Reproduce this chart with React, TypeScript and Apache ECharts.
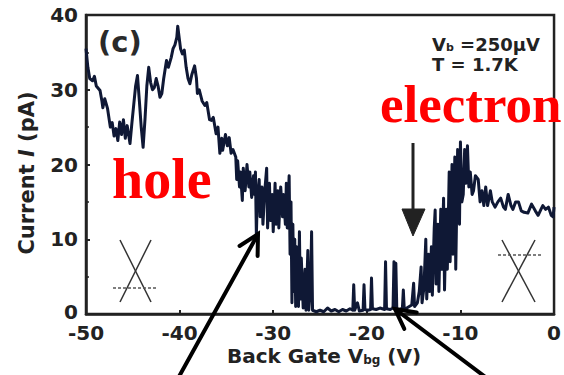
import React, { useEffect, useRef } from "react";
import * as echarts from "echarts";

// Back-gate voltage (V)
const voltage: number[] = [
  -50.0, -49.8, -49.6, -49.3, -49.1, -48.9, -48.5, -48.3, -48.2, -48.0,
  -47.7, -47.4, -47.2, -47.0, -46.8, -46.6, -46.4, -46.2, -46.0, -45.8,
  -45.6, -45.3, -45.1, -44.9, -44.7, -44.5, -44.3, -44.1, -43.9, -43.7,
  -43.5, -43.3, -43.1, -42.9, -42.7, -42.5, -42.3, -42.1, -41.9, -41.7,
  -41.4, -41.2, -40.9, -40.7, -40.5, -40.3, -40.2, -40.0, -39.9, -39.7,
  -39.5, -39.3, -39.1, -38.9, -38.7, -38.4, -38.2, -38.1, -37.9, -37.6,
  -37.3, -37.1, -36.8, -36.6, -36.4, -36.1, -35.9, -35.7, -35.5, -35.4,
  -35.1, -34.9, -34.7, -34.5, -34.3, -34.0, -33.9, -33.8, -33.6, -33.5,
  -33.3, -33.2, -33.0, -32.8, -32.6, -32.5, -32.3, -32.1, -32.0, -31.9,
  -31.8, -31.7, -31.5, -31.4, -31.2, -31.1, -30.9, -30.7, -30.6, -30.4,
  -30.3, -30.1, -30.0, -29.8, -29.7, -29.5, -29.4, -29.2, -29.0, -28.9,
  -28.7, -28.6, -28.5, -28.3, -28.2, -28.1, -28.0, -27.9, -27.8, -27.7,
  -27.6, -27.5, -27.3, -27.2, -27.1, -27.0, -26.8, -26.6, -26.5, -26.3,
  -26.2, -26.0, -25.9, -25.8, -25.6, -25.4, -25.0, -24.6, -24.2, -23.8,
  -23.4, -23.0, -22.6, -22.2, -21.8, -21.5, -21.4, -21.3, -21.0, -20.8,
  -20.4, -20.3, -20.2, -19.9, -19.6, -19.5, -19.4, -19.0, -18.6, -18.1,
  -18.0, -17.9, -17.5, -17.2, -17.1, -17.0, -16.9, -16.8, -16.5, -16.2,
  -16.1, -16.0, -15.6, -15.2, -15.0, -14.9, -14.6, -14.4, -14.2, -14.1,
  -13.9, -13.7, -13.6, -13.4, -13.3, -13.1, -13.0, -12.8, -12.7, -12.6,
  -12.4, -12.3, -12.1, -12.0, -11.8, -11.7, -11.6, -11.5, -11.4, -11.2,
  -11.1, -10.9, -10.8, -10.6, -10.5, -10.3, -10.1, -10.0, -9.85, -9.7,
  -9.55, -9.4, -9.25, -9.1, -8.95, -8.75, -8.6, -8.4, -8.1, -7.9,
  -7.7, -7.5, -7.3, -7.1, -6.8, -6.6, -6.3, -6.0, -5.7, -5.4,
  -5.2, -4.9, -4.6, -4.4, -4.1, -3.8, -3.5, -3.2, -2.8, -2.4,
  -2.0, -1.7, -1.4, -1.2, -0.9, -0.6, -0.3, -0.1, 0.0,
];

// Current I (pA)
const current: number[] = [
  35.5, 33.0, 31.5, 31.2, 31.8, 30.5, 29.9, 28.5, 27.6, 28.8,
  27.5, 25.0, 25.6, 23.8, 24.8, 23.2, 25.7, 24.0, 26.0, 23.5,
  25.2, 22.8, 25.5, 28.0, 30.5, 31.9, 28.5, 25.0, 22.3, 26.0,
  30.5, 33.0, 31.0, 30.0, 30.3, 31.5, 30.5, 29.0, 29.5, 31.5,
  33.9, 33.0, 34.3, 35.5, 36.0, 37.0, 38.5, 36.5, 35.5, 34.8,
  35.3, 33.0, 31.5, 30.8, 32.0, 33.2, 31.5, 29.5, 30.0, 28.5,
  27.9, 28.3, 26.0, 25.9, 26.3, 24.1, 25.0, 21.5, 23.5, 21.9,
  24.0, 22.5, 23.6, 21.5, 22.0, 21.0, 18.0, 20.5, 17.0, 19.0,
  15.2, 19.5, 16.5, 20.0, 17.0, 19.0, 15.6, 18.5, 16.0, 19.0,
  10.5, 15.5, 18.0, 13.0, 17.0, 12.0, 16.5, 19.5, 11.5, 17.5,
  12.5, 16.0, 11.0, 17.5, 12.0, 16.5, 11.5, 17.0, 13.0, 16.0,
  12.0, 17.5, 11.5, 18.5, 8.0, 15.0, 1.5, 12.0, 3.0, 10.0,
  1.0, 9.0, 1.0, 11.0, 2.0, 7.5, 0.8, 6.0, 0.5, 8.5,
  0.5, 4.0, 11.0, 0.5, 0.4, 0.3, 0.5, 0.3, 0.8, 0.4,
  0.6, 0.3, 0.6, 0.4, 0.7, 0.5, 3.9, 0.5, 1.5, 0.4,
  0.5, 3.9, 0.6, 0.5, 0.6, 4.8, 0.7, 0.6, 0.8, 0.6,
  7.0, 0.7, 0.6, 0.8, 7.0, 1.0, 6.8, 0.7, 0.6, 0.8,
  3.2, 0.6, 0.9, 1.2, 4.1, 1.0, 1.5, 3.0, 6.3, 1.5,
  3.5, 10.0, 2.0, 8.0, 3.0, 9.0, 2.5, 11.5, 13.9, 4.0,
  12.0, 3.0, 14.0, 6.0, 15.5, 3.2, 9.0, 14.0, 6.0, 19.0,
  7.0, 20.0, 8.0, 21.0, 6.0, 22.0, 12.0, 23.0, 15.0, 16.0,
  22.0, 17.5, 22.5, 17.0, 19.0, 16.0, 16.5, 18.5, 18.0, 15.0,
  16.5, 14.5, 17.0, 14.5, 16.5, 15.0, 14.3, 15.0, 15.5, 14.3,
  14.0, 16.0, 14.5, 14.0, 15.0, 15.0, 13.8, 13.6, 13.5, 14.7,
  13.8, 13.2, 14.0, 14.5, 14.0, 14.3, 13.2, 13.0, 14.3,
];

const xTicks = { min: -50, max: 0, step: 10 };
const yTicks = { min: 0, max: 40, step: 10 };

const SANS = "DejaVu Sans";
const SERIF = "Liberation Serif";
const INK = "#222222";

function arrow(tail: number[], tip: number[], len: number, width: number) {
  const dx = tip[0] - tail[0];
  const dy = tip[1] - tail[1];
  const n = Math.hypot(dx, dy);
  const bx = -dx / n;
  const by = -dy / n;
  const a = (28 * Math.PI) / 180;
  const c = Math.cos(a);
  const s = Math.sin(a);
  const p1 = [tip[0] + len * (bx * c - by * s), tip[1] + len * (bx * s + by * c)];
  const p2 = [tip[0] + len * (bx * c + by * s), tip[1] + len * (-bx * s + by * c)];
  return [
    {
      type: "line",
      z: 100,
      shape: { x1: tail[0], y1: tail[1], x2: tip[0], y2: tip[1] },
      style: { stroke: "#000", lineWidth: width, lineCap: "round" },
    },
    {
      type: "polyline",
      z: 100,
      shape: { points: [p1, tip, p2] },
      style: { stroke: "#000", lineWidth: width, fill: null, lineJoin: "miter", lineCap: "round" },
    },
  ];
}

function crossIcon(x1: number, x2: number, yTop: number, yBot: number, dashY: number, dx1: number, dx2: number) {
  return [
    {
      type: "line",
      z: 50,
      shape: { x1, y1: yTop, x2, y2: yBot },
      style: { stroke: "#333", lineWidth: 1.5 },
    },
    {
      type: "line",
      z: 50,
      shape: { x1: x2, y1: yTop, x2: x1, y2: yBot },
      style: { stroke: "#333", lineWidth: 1.5 },
    },
    {
      type: "line",
      z: 50,
      shape: { x1: dx1, y1: dashY, x2: dx2, y2: dashY },
      style: { stroke: "#555", lineWidth: 1.5, lineDash: [3, 2] },
    },
  ];
}

export default function App() {
  const ref = useRef<HTMLDivElement>(null);

  useEffect(() => {
    if (!ref.current) return;
    const chart = echarts.init(ref.current, undefined, { renderer: "svg" });
    const data = voltage.map((v, i) => [v, current[i]]);

    const labelStyle = {
      fontFamily: SANS,
      fontWeight: "bold" as const,
      fontSize: 20,
      lineHeight: 16,
      color: INK,
    };

    const option: any = {
      animation: false,
      backgroundColor: "#ffffff",
      grid: {
        left: 86,
        right: 7,
        top: 15,
        bottom: 61,
        show: true,
        borderColor: INK,
        borderWidth: 2.5,
        backgroundColor: "transparent",
      },
      xAxis: {
        type: "value",
        min: xTicks.min,
        max: xTicks.max,
        interval: xTicks.step,
        axisLine: { show: true, onZero: false, lineStyle: { color: INK, width: 2.5 } },
        axisTick: { show: true, inside: true, length: 4, lineStyle: { color: INK, width: 2 } },
        splitLine: { show: false },
        axisLabel: { ...labelStyle, margin: 11 },
      },
      yAxis: {
        type: "value",
        min: yTicks.min,
        max: yTicks.max,
        interval: yTicks.step,
        axisLine: { show: true, onZero: false, lineStyle: { color: INK, width: 2.5 } },
        axisTick: { show: true, inside: true, length: 4, lineStyle: { color: INK, width: 2 } },
        minorTick: { show: true, splitNumber: 2, length: 3, lineStyle: { color: INK, width: 1.5 } },
        splitLine: { show: false },
        axisLabel: {
          ...labelStyle,
          margin: 8,
          formatter: (v: number) => (v === 0 ? "{z|0}" : String(v)),
          rich: {
            z: {
              fontFamily: SANS,
              fontWeight: "bold",
              fontSize: 20,
              lineHeight: 16,
              color: INK,
              padding: [0, 0, 5, 0],
            },
          },
        },
      },
      series: [
        {
          type: "line",
          data,
          showSymbol: false,
          symbol: "none",
          clip: true,
          lineStyle: { color: "#0f1835", width: 3, join: "round" },
          z: 3,
        },
      ],
      graphic: [
        {
          type: "text",
          x: 98,
          y: 42,
          z: 60,
          style: {
            text: "(c)",
            fontFamily: SANS,
            fontWeight: "bold",
            fontSize: 29,
            fill: "#2a2a2a",
            align: "left",
            verticalAlign: "middle",
          },
        },
        {
          type: "text",
          x: 432,
          y: 44,
          z: 60,
          style: {
            text: "{m|V}{s|b}{m| =250μV}",
            align: "left",
            verticalAlign: "middle",
            fill: INK,
            rich: {
              m: { fontFamily: SANS, fontWeight: "bold", fontSize: 18, fill: INK, color: INK },
              s: { fontFamily: SANS, fontWeight: "bold", fontSize: 11, fill: INK, color: INK, verticalAlign: "bottom" },
            },
          },
        },
        {
          type: "text",
          x: 432,
          y: 64,
          z: 60,
          style: {
            text: "T = 1.7K",
            fontFamily: SANS,
            fontWeight: "bold",
            fontSize: 18,
            fill: INK,
            align: "left",
            verticalAlign: "middle",
          },
        },
        {
          type: "text",
          x: 380,
          y: 104,
          z: 60,
          style: {
            text: "electron",
            fontFamily: SERIF,
            fontWeight: "bold",
            fontSize: 53,
            fill: "#ff0000",
            align: "left",
            verticalAlign: "middle",
          },
        },
        {
          type: "text",
          x: 112,
          y: 179,
          z: 60,
          style: {
            text: "hole",
            fontFamily: SERIF,
            fontWeight: "bold",
            fontSize: 56,
            fill: "#ff0000",
            align: "left",
            verticalAlign: "middle",
          },
        },
        {
          type: "text",
          x: 27,
          y: 173,
          rotation: Math.PI / 2,
          z: 60,
          style: {
            text: "{m|Current }{i|I}{m| (pA)}",
            align: "center",
            verticalAlign: "middle",
            fill: INK,
            rich: {
              m: { fontFamily: SANS, fontWeight: "bold", fontSize: 21, fill: INK, color: INK },
              i: { fontFamily: SANS, fontWeight: "bold", fontStyle: "italic", fontSize: 21, fill: INK, color: INK },
            },
          },
        },
        {
          type: "text",
          x: 324,
          y: 356,
          z: 60,
          style: {
            text: "{m|Back Gate V}{s|bg}{m| (V)}",
            align: "center",
            verticalAlign: "middle",
            fill: INK,
            rich: {
              m: { fontFamily: SANS, fontWeight: "bold", fontSize: 20, fill: INK, color: INK },
              s: { fontFamily: SANS, fontWeight: "bold", fontSize: 12, fill: INK, color: INK, verticalAlign: "bottom" },
            },
          },
        },
        ...arrow([176, 382], [258, 234], 22, 4),
        ...arrow([492, 382], [395, 309], 22, 4),
        {
          type: "line",
          z: 100,
          shape: { x1: 413, y1: 143, x2: 413, y2: 214 },
          style: { stroke: INK, lineWidth: 3 },
        },
        {
          type: "polygon",
          z: 100,
          shape: { points: [[402, 209], [425, 209], [413, 236]] },
          style: { fill: INK, stroke: INK, lineWidth: 1 },
        },
        ...crossIcon(120, 151, 240, 302, 288, 113, 157),
        ...crossIcon(502, 535, 240, 302, 255, 498, 541),
      ],
    };

    chart.setOption(option);
    return () => chart.dispose();
  }, []);

  return (
    <div
      ref={ref}
      style={{ position: "absolute", left: 0, top: 0, width: 564, height: 375, background: "#fff" }}
    />
  );
}
